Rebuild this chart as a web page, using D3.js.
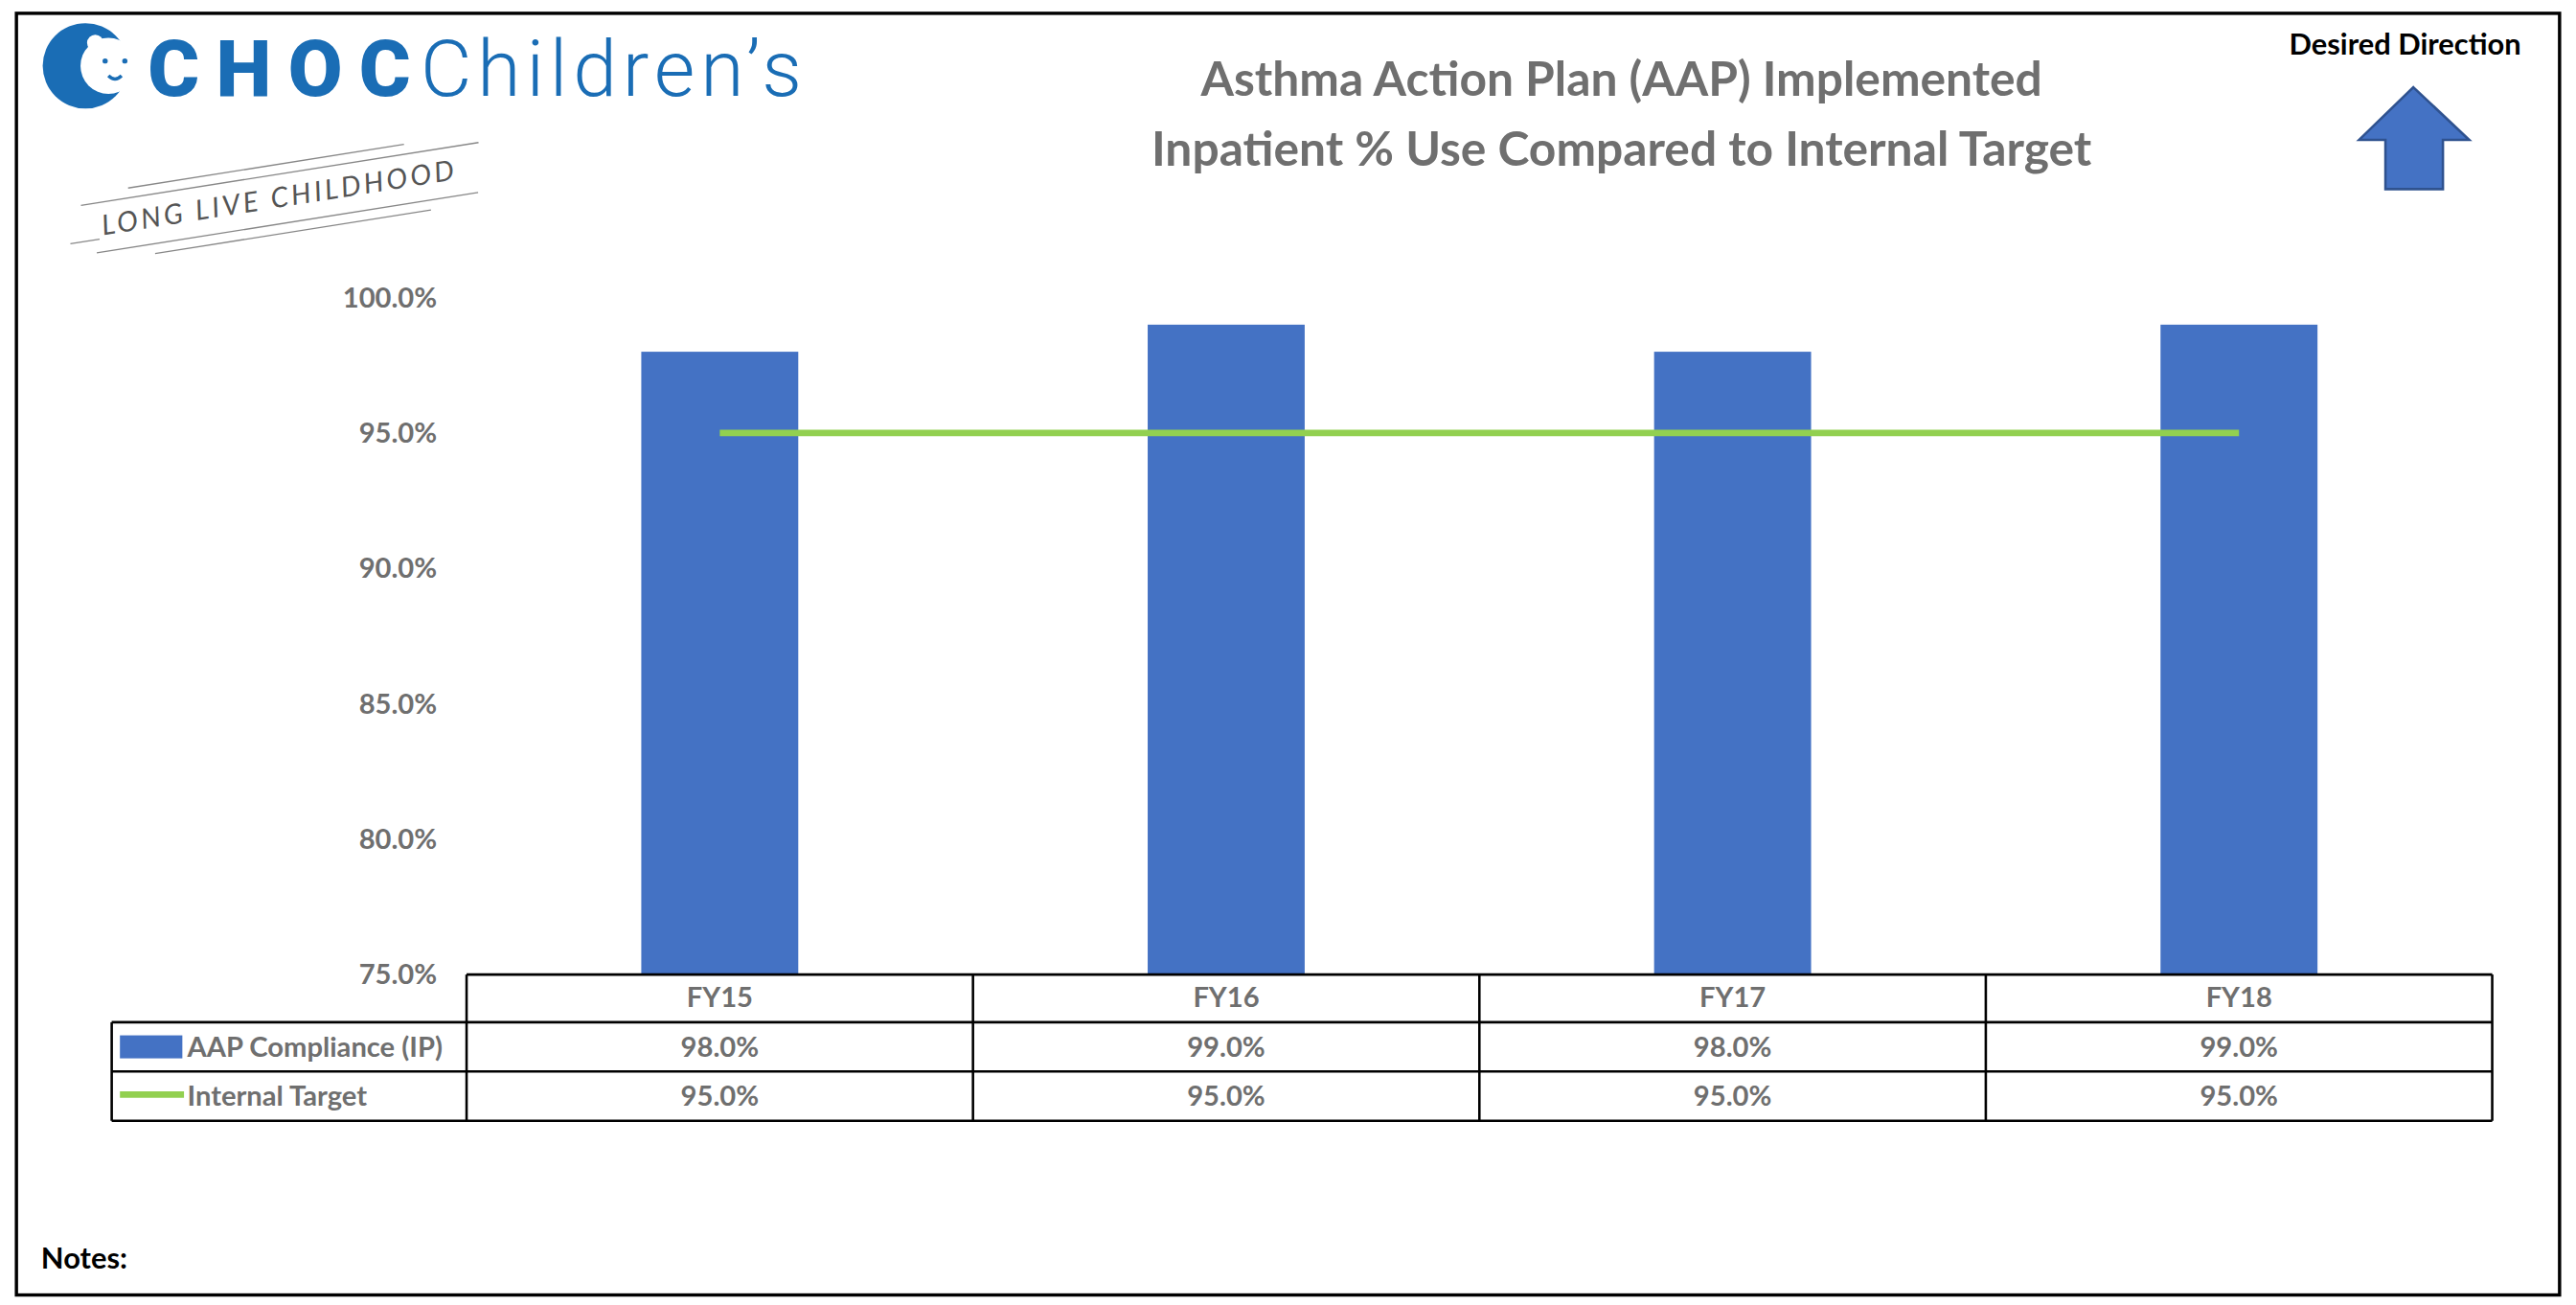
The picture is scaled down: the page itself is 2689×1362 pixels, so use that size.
<!DOCTYPE html>
<html><head><meta charset="utf-8">
<script src="https://cdn.jsdelivr.net/npm/d3@7"></script>
<style>body{margin:0;background:#fff}svg{display:block}</style>
</head><body>
<svg id="chart" width="2689" height="1362" viewBox="0 0 1568 794"></svg>
<script>
// --- Data ---
const categories = ["FY15", "FY16", "FY17", "FY18"];
const compliance = [98.0, 99.0, 98.0, 99.0];
const target = [95.0, 95.0, 95.0, 95.0];
const yTicks = [75, 80, 85, 90, 95, 100];
const seriesNames = ["AAP Compliance (IP)", "Internal Target"];

const blue = "#4472C4", green = "#92D050", gray = "#6f6f6f";
const font = "Lato, 'Open Sans', sans-serif";
const svg = d3.select("#chart");

// border
svg.append("rect").attr("x", 10).attr("y", 8).attr("width", 1548).attr("height", 780)
  .attr("fill", "none").attr("stroke", "#000").attr("stroke-width", 2);

// --- Logo ---
const logo = svg.append("g");
logo.append("circle").attr("cx", 52).attr("cy", 40).attr("r", 26).attr("fill", "#1a6db5");
logo.append("circle").attr("cx", 66).attr("cy", 40).attr("r", 17).attr("fill", "#fff");
logo.append("circle").attr("cx", 58).attr("cy", 26).attr("r", 5).attr("fill", "#fff");
logo.append("circle").attr("cx", 64).attr("cy", 37).attr("r", 1.6).attr("fill", "#1a6db5");
logo.append("circle").attr("cx", 76).attr("cy", 37).attr("r", 1.6).attr("fill", "#1a6db5");
logo.append("path").attr("d", "M66,46 q4,4 8,0").attr("fill", "none").attr("stroke", "#1a6db5").attr("stroke-width", 2);
logo.append("text").attr("x", 90).attr("y", 58).attr("font-family", "Roboto, sans-serif")
  .attr("font-weight", 900).attr("font-size", 48).attr("fill", "#1a6db5").attr("textLength", 160).text("CHOC");
logo.append("text").attr("x", 256).attr("y", 58).attr("font-family", "Roboto, sans-serif")
  .attr("font-weight", 300).attr("font-size", 48).attr("fill", "#1a6db5").attr("textLength", 232).text("Children’s");
const tag = logo.append("g").attr("transform", "translate(170,120) rotate(-9)");
tag.append("text").attr("text-anchor", "middle").attr("y", 6).attr("font-family", font)
  .attr("font-style", "italic").attr("font-size", 17).attr("letter-spacing", 2).attr("fill", "#555")
  .text("LONG LIVE CHILDHOOD");
[[-120, -14, 125, -14], [-115, 16, 120, 16], [-130, 8, -112, 8], [-90, -20, 80, -20], [-80, 22, 90, 22]]
  .forEach(([x1, y1, x2, y2]) => tag.append("line").attr("x1", x1).attr("y1", y1).attr("x2", x2).attr("y2", y2)
    .attr("stroke", "#888").attr("stroke-width", 0.8));

// --- Title ---
svg.append("text").attr("x", 987).attr("y", 58).attr("text-anchor", "middle").attr("font-family", font)
  .attr("font-weight", "bold").attr("font-size", 29).attr("fill", gray).text("Asthma Action Plan (AAP) Implemented");
svg.append("text").attr("x", 987).attr("y", 101).attr("text-anchor", "middle").attr("font-family", font)
  .attr("font-weight", "bold").attr("font-size", 29).attr("fill", gray).text("Inpatient % Use Compared to Internal Target");

// --- Desired direction ---
svg.append("text").attr("x", 1464).attr("y", 33).attr("text-anchor", "middle").attr("font-family", font)
  .attr("font-weight", "bold").attr("font-size", 18).attr("fill", "#000").text("Desired Direction");
svg.append("path").attr("d", "M1469,53 L1503,85 L1487,85 L1487,115 L1452,115 L1452,85 L1436,85 Z")
  .attr("fill", blue).attr("stroke", "#2f528f").attr("stroke-width", 1.5);

// --- Scales ---
const x = d3.scaleBand().domain(categories).range([284, 1517]);
const y = d3.scaleLinear().domain([75, 100]).range([593, 181]);
const barW = x.bandwidth() * 0.31;

svg.append("g").selectAll("text").data(yTicks).join("text")
  .attr("x", 266).attr("y", d => y(d) + 6).attr("text-anchor", "end")
  .attr("font-family", font).attr("font-weight", "bold").attr("font-size", 17).attr("fill", gray)
  .text(d => d.toFixed(1) + "%");

svg.append("g").selectAll("rect").data(compliance).join("rect")
  .attr("x", (d, i) => x(categories[i]) + x.bandwidth() / 2 - barW / 2)
  .attr("y", d => y(d)).attr("width", barW).attr("height", d => y(75) - y(d)).attr("fill", blue);

svg.append("path").datum(target)
  .attr("d", d3.line().x((d, i) => x(categories[i]) + x.bandwidth() / 2).y(d => y(d)))
  .attr("fill", "none").attr("stroke", green).attr("stroke-width", 4);

// --- Data table ---
const tbl = svg.append("g").attr("font-family", font).attr("font-weight", "bold").attr("font-size", 17).attr("fill", gray);
const rowY = [593, 622, 652, 682];
const ln = (x1, y1, x2, y2) => tbl.append("line").attr("x1", x1).attr("y1", y1).attr("x2", x2).attr("y2", y2)
  .attr("stroke", "#000").attr("stroke-width", 1.5);
ln(284, 593, 1517, 593);
ln(68, 622, 1517, 622); ln(68, 652, 1517, 652); ln(68, 682, 1517, 682);
ln(68, 622, 68, 682);
categories.forEach(c => ln(x(c), 593, x(c), 682));
ln(1517, 593, 1517, 682);
categories.forEach((c, i) => {
  const cx = x(c) + x.bandwidth() / 2;
  tbl.append("text").attr("x", cx).attr("y", rowY[0] + 20).attr("text-anchor", "middle").text(c);
  tbl.append("text").attr("x", cx).attr("y", rowY[1] + 21).attr("text-anchor", "middle").text(compliance[i].toFixed(1) + "%");
  tbl.append("text").attr("x", cx).attr("y", rowY[2] + 21).attr("text-anchor", "middle").text(target[i].toFixed(1) + "%");
});
tbl.append("rect").attr("x", 73).attr("y", 630).attr("width", 38).attr("height", 14).attr("fill", blue);
tbl.append("line").attr("x1", 73).attr("x2", 112).attr("y1", 666).attr("y2", 666).attr("stroke", green).attr("stroke-width", 4);
seriesNames.forEach((s, i) => tbl.append("text").attr("x", 114).attr("y", rowY[i + 1] + 21).text(s));

// --- Notes ---
svg.append("text").attr("x", 25).attr("y", 772).attr("font-family", font).attr("font-weight", "bold")
  .attr("font-size", 18).attr("fill", "#000").text("Notes:");
</script>
</body></html>
